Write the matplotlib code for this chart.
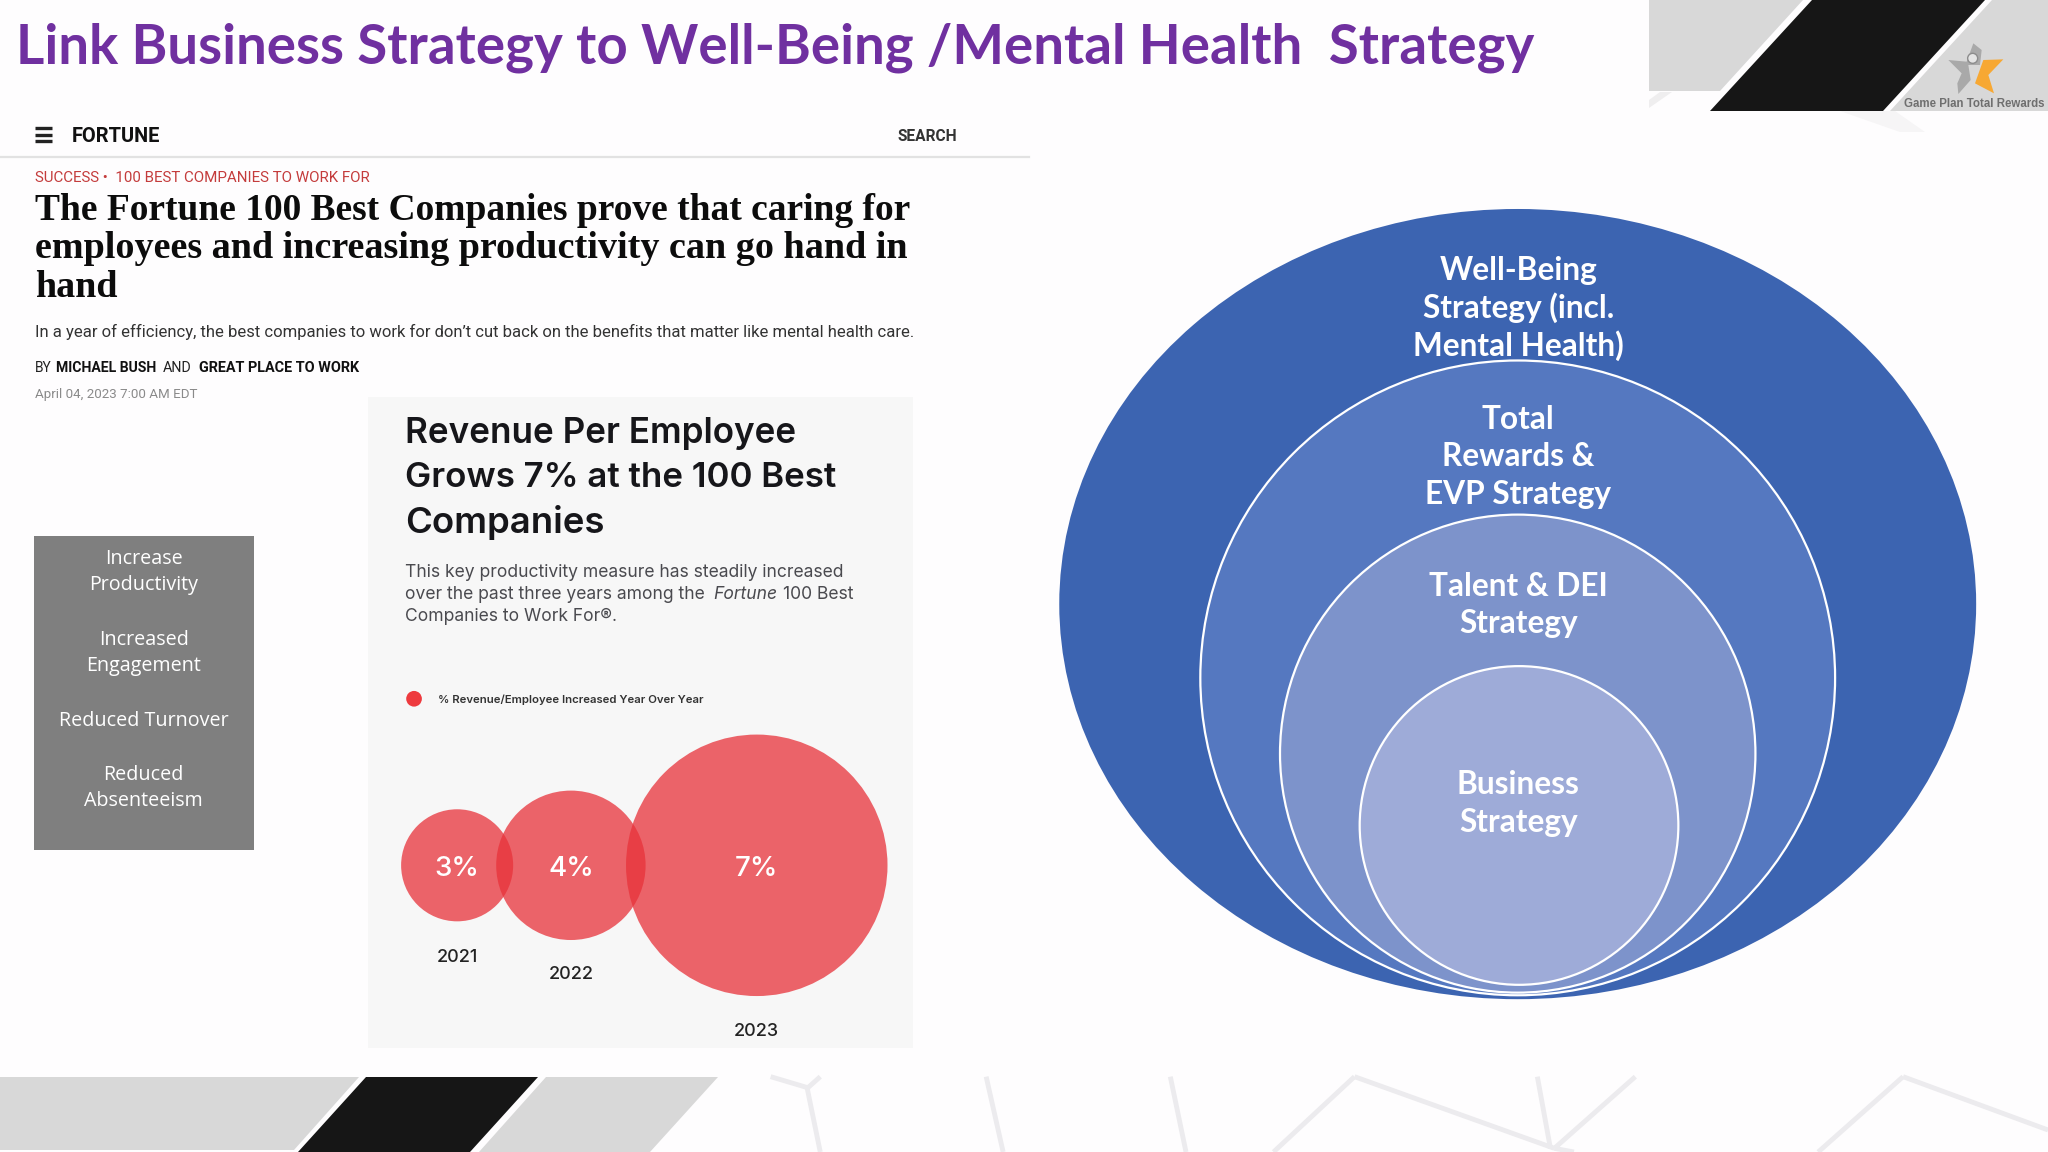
import matplotlib
matplotlib.use("Agg")
import matplotlib.pyplot as plt
from matplotlib.patches import Ellipse, Circle, Polygon, Rectangle

title = "Link Business Strategy to Well-Being /Mental Health  Strategy"
headline = ["The Fortune 100 Best Companies prove that caring for",
            "employees and increasing productivity can go hand in",
            "hand"]
deck = "In a year of efficiency, the best companies to work for don\u2019t cut back on the benefits that matter like mental health care."
benefits = ["Increase\nProductivity", "Increased\nEngagement", "Reduced Turnover", "Reduced\nAbsenteeism"]
bubble_years = ["2021", "2022", "2023"]
bubble_values = [3, 4, 7]
layer_labels = ["Well-Being\nStrategy (incl.\nMental Health)", "Total\nRewards &\nEVP Strategy",
                "Talent & DEI\nStrategy", "Business\nStrategy"]
layer_colors = ["#3c64b1", "#5578c0", "#7d93cb", "#9eabd8"]

narrow = "Roboto"
S = 2048 / 1568  # reference measured on the 1568 wide view

fig = plt.figure(figsize=(20.48, 11.52), dpi=100, facecolor="#fefdfe")
ax = fig.add_axes([0, 0, 1, 1])
ax.set_xlim(0, 2048)
ax.set_ylim(1152, 0)
ax.axis("off")


def txt(x, y, s, size, **kw):
    kw.setdefault("va", "center")
    return ax.text(x * S, y * S, s, fontsize=size, **kw)


def fit(x0, x1, y, s, **kw):
    # scale the font so the string spans x0..x1 like the condensed original
    t = txt(x0, y, s, 12, **kw)
    w = t.get_window_extent(fig.canvas.get_renderer()).width
    t.set_fontsize(12 * 0.994 * (x1 - x0) * S / w)
    return t


# faint lines bottom right
segs = [[(590, 50), (620, 85)], [(628, 50), (618, 85)], [(618, 85), (628, 276)],
        [(755, 50), (768, 276)], [(896, 50), (908, 276)], [(1037, 50), (975, 276)],
        [(1037, 50), (1190, 265)], [(1177, 50), (1187, 265)], [(1252, 50), (1190, 265)],
        [(1190, 265), (1205, 276)], [(1457, 50), (1392, 276)], [(1457, 50), (1568, 210)]]
for seg in segs:
    xs = [p[0] / 0.7656 for p in seg]
    ys = [1060 + p[1] / 3 for p in seg]
    ax.plot(xs, ys, color="#ecebee", lw=3.5, solid_capstyle="butt")

# bottom band
ax.add_patch(Polygon([(0, 1077), (359, 1077), (294, 1150), (0, 1150)], fc="#d8d8d8", ec="none"))
ax.add_patch(Polygon([(366, 1077), (538, 1077), (470, 1152), (298, 1152)], fc="#161616", ec="none"))
ax.add_patch(Polygon([(546, 1077), (718, 1077), (650, 1152), (479, 1152)], fc="#d8d8d8", ec="none"))

# top right corner
ax.add_patch(Polygon([(1649, 108), (1672, 92), (1660, 92), (1649, 100)], fc="#efeeef", ec="none"))
ax.add_patch(Polygon([(1840, 111), (1895, 111), (1925, 132), (1900, 132)], fc="#f6f5f6", ec="none"))
ax.add_patch(Polygon([(1649, 0), (1803, 0), (1720, 91), (1649, 91)], fc="#d8d8d8", ec="none"))
ax.add_patch(Polygon([(1812, 0), (1985, 0), (1883, 111), (1710, 111)], fc="#161616", ec="none"))
ax.add_patch(Polygon([(1992, 0), (2048, 0), (2048, 111), (1890, 111)], fc="#d8d8d8", ec="none"))
logo_gray = [(1045, 180), (1100, 185), (1120, 130), (1145, 150), (1140, 195), (1105, 195),
             (1112, 240), (1075, 282), (1072, 250), (1085, 220)]
logo_orange = [(1150, 180), (1210, 178), (1165, 225), (1182, 280), (1125, 250)]
ax.add_patch(Polygon([(1600 + x / 3, y / 3) for x, y in logo_gray], fc="#a9a9a9", ec="none"))
ax.add_patch(Polygon([(1600 + x / 3, y / 3) for x, y in logo_orange], fc="#f7a833", ec="none"))
ax.add_patch(Circle((1600 + 1118 / 3, 175 / 3), 5, fc="#e4e4e4", ec="#8c8c8c", lw=1))
fit(1458, 1566, 80, "Game Plan Total Rewards", family="Liberation Sans", fontweight="bold", color="#6f6f6f")

# title
fit(12, 1177, 36.5, title, color="#7030a0", family="Lato", fontweight="bold")

# fortune page header
for yy in (98, 103, 108):
    ax.plot([27 * S, 40 * S], [yy * S, yy * S], color="#222222", lw=2.4, solid_capstyle="butt")
fit(55, 123, 104.5, "FORTUNE", family=narrow, fontweight="bold", color="#111111")
fit(687, 733, 104.5, "SEARCH", family=narrow, fontweight="bold", color="#333333")
ax.plot([0, 788 * S], [120 * S, 120 * S], color="#e2e2e2", lw=1.6)
fit(27, 286, 136.5, "SUCCESS \u2022  100 BEST COMPANIES TO WORK FOR", family=narrow, color="#c43c3c")
for yy, line, end in zip((160, 189, 219), headline, (698, 695, 90)):
    fit(27, end, yy + 1, line, family="Liberation Serif", fontweight="bold", color="#0c0c0c")
fit(27, 704, 254.5, deck, family=narrow, color="#333333")
fit(27, 40, 282, "BY", family=narrow, color="#222222")
fit(43, 120, 282, "MICHAEL BUSH", family=narrow, fontweight="bold", color="#111111")
fit(125, 147, 282, "AND", family=narrow, color="#222222")
fit(152, 275, 282, "GREAT PLACE TO WORK", family=narrow, fontweight="bold", color="#111111")
fit(27, 152, 302, "April 04, 2023 7:00 AM EDT", family=narrow, color="#8a8a8a")

# benefits box
ax.add_patch(Rectangle((26 * S, 410 * S), 168.5 * S, 241 * S, fc="#7f7f7f", ec="none"))
for yy, label in zip((438, 500, 552, 603), benefits):
    txt(110, yy, label, 14.2, color="white", ha="center", family="Open Sans", linespacing=1.4)

# revenue panel
ax.add_patch(Rectangle((282 * S, 304 * S), 417 * S, 498 * S, fc="#f7f7f7", ec="none"))
for yy, line, end in zip((332, 366, 400), ["Revenue Per Employee", "Grows 7% at the 100 Best", "Companies"],
                         (612, 643, 464)):
    fit(310, end, yy, line, family="Inter", fontweight="semibold", color="#16161a")
grey = "#4a4a4f"
body = 12.6
txt(310, 438, "This key productivity measure has steadily increased", body, family="Inter", color=grey)
part = txt(310, 455, "over the past three years among the ", body, family="Inter", color=grey)
fig.canvas.draw()
x1 = part.get_window_extent().x1 / S
part = txt(x1 + 3, 455, "Fortune", body, family="Inter", style="italic", color=grey)
x1 = part.get_window_extent().x1 / S
txt(x1 + 4, 455, "100 Best", body, family="Inter", color=grey)
txt(310, 472, "Companies to Work For\u00ae.", body, family="Inter", color=grey)
ax.add_patch(Circle((317 * S, 535 * S), 6 * S, fc="#ee3a3e", ec="none"))
fit(335, 540, 535.5, "% Revenue/Employee Increased Year Over Year", family="Inter", fontweight="semibold", color="#333333")

# bubbles, radius follows the value
r_per_pct = 14.3
overlaps = [13, 15]
year_y = [733, 746, 790]
cx = 350
for i, (val, yr) in enumerate(zip(bubble_values, bubble_years)):
    r = val * r_per_pct
    ax.add_patch(Circle((cx * S, 662.5 * S), r * S, fc="#e8323a", alpha=0.75, ec="none"))
    txt(cx, 665, f"{val}%", 20, family="Inter", fontweight="medium", color="white", ha="center")
    txt(cx, year_y[i], yr, 13, family="Inter", fontweight="medium", color="#222222", ha="center")
    if i < len(overlaps):
        cx += r + bubble_values[i + 1] * r_per_pct - overlaps[i]

# nested strategy layers
boxes = [(811, 1513, 160, 765), (919, 1405, 276, 762), (980, 1344, 394, 760), (1041, 1285, 510, 754)]
line_ys = [207, 321, 449, 601]
for i, (x0, x1, y0, y1) in enumerate(boxes):
    ax.add_patch(Ellipse(((x0 + x1) / 2 * S, (y0 + y1) / 2 * S), (x1 - x0) * S, (y1 - y0) * S,
                         fc=layer_colors[i], ec="white" if i else "none", lw=1.6))
for label, yy in zip(layer_labels, line_ys):
    for k, line in enumerate(label.split("\n")):
        txt(1162.5, yy + k * 28.7, line, 22.8, color="white", ha="center", family="Lato", fontweight="bold")

fig.savefig("out.png", dpi=100, facecolor=fig.get_facecolor())
